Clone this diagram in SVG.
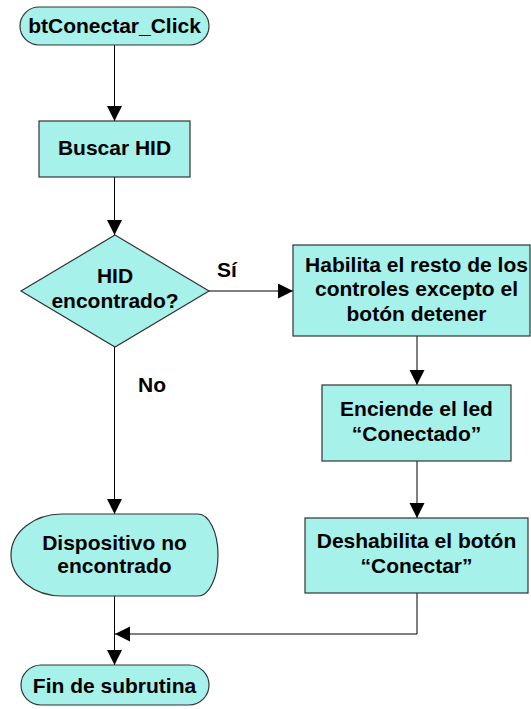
<svg xmlns="http://www.w3.org/2000/svg" width="531" height="709" viewBox="0 0 531 709">
<style>
.n{fill:#a6f1ea;stroke:#333;stroke-width:1.2}
.t{font-family:"Liberation Sans",Arial,sans-serif;font-weight:bold;font-size:21px;fill:#000;text-anchor:middle}
.c{fill:none;stroke:#000;stroke-width:1}
</style>
<defs>
<marker id="ah" markerUnits="userSpaceOnUse" markerWidth="16" markerHeight="16" refX="15" refY="7.5" orient="auto">
<path d="M0,0 L15,7.5 L0,15 z" fill="#000"/>
</marker>
</defs>
<rect width="531" height="709" fill="#fff"/>
<g id="connectors">
<line class="c" x1="114.5" y1="45" x2="114.5" y2="121" marker-end="url(#ah)"/>
<line class="c" x1="114.5" y1="177" x2="114.5" y2="235" marker-end="url(#ah)"/>
<line class="c" x1="209" y1="291" x2="293" y2="291" marker-end="url(#ah)"/>
<line class="c" x1="114.5" y1="347" x2="114.5" y2="514" marker-end="url(#ah)"/>
<line class="c" x1="417" y1="336" x2="417" y2="385" marker-end="url(#ah)"/>
<line class="c" x1="417" y1="461" x2="417" y2="518" marker-end="url(#ah)"/>
<polyline class="c" points="417,593 417,634 115,634" marker-end="url(#ah)"/>
<line class="c" x1="114.5" y1="596" x2="114.5" y2="665" marker-end="url(#ah)"/>
</g>
<g id="start">
<rect class="n" x="20" y="7" width="189" height="38" rx="19"/>
<text class="t" x="114.5" y="33">btConectar_Click</text>
</g>
<g id="buscar">
<rect class="n" x="39" y="121" width="151" height="56"/>
<text class="t" x="114.5" y="155">Buscar HID</text>
</g>
<g id="decision">
<polygon class="n" points="115,235 209,291 115,347 21,291"/>
<text class="t" x="115" y="283">HID</text>
<text class="t" x="115" y="308">encontrado?</text>
</g>
<g id="labels">
<text class="t" x="227" y="277">Sí</text>
<text class="t" x="152" y="392">No</text>
</g>
<g id="habilita">
<rect class="n" x="293" y="245" width="237" height="91"/>
<text class="t" x="416.5" y="272">Habilita el resto de los</text>
<text class="t" x="416.5" y="296">controles excepto el</text>
<text class="t" x="416.5" y="321">botón detener</text>
</g>
<g id="enciende">
<rect class="n" x="322" y="385" width="189" height="76"/>
<text class="t" x="416.5" y="416">Enciende el led</text>
<text class="t" x="416.5" y="441">“Conectado”</text>
</g>
<g id="deshabilita">
<rect class="n" x="305" y="518" width="223" height="75"/>
<text class="t" x="416.5" y="548">Deshabilita el botón</text>
<text class="t" x="416.5" y="573">“Conectar”</text>
</g>
<g id="dispositivo">
<path class="n" d="M62,514 L198,514 A20,41 0 0 1 198,596 L62,596 A51,41 0 0 1 62,514 Z"/>
<text class="t" x="114.5" y="550">Dispositivo no</text>
<text class="t" x="114.5" y="573">encontrado</text>
</g>
<g id="fin">
<rect class="n" x="21" y="665" width="188" height="40" rx="20"/>
<text class="t" x="114.5" y="693">Fin de subrutina</text>
</g>
</svg>
